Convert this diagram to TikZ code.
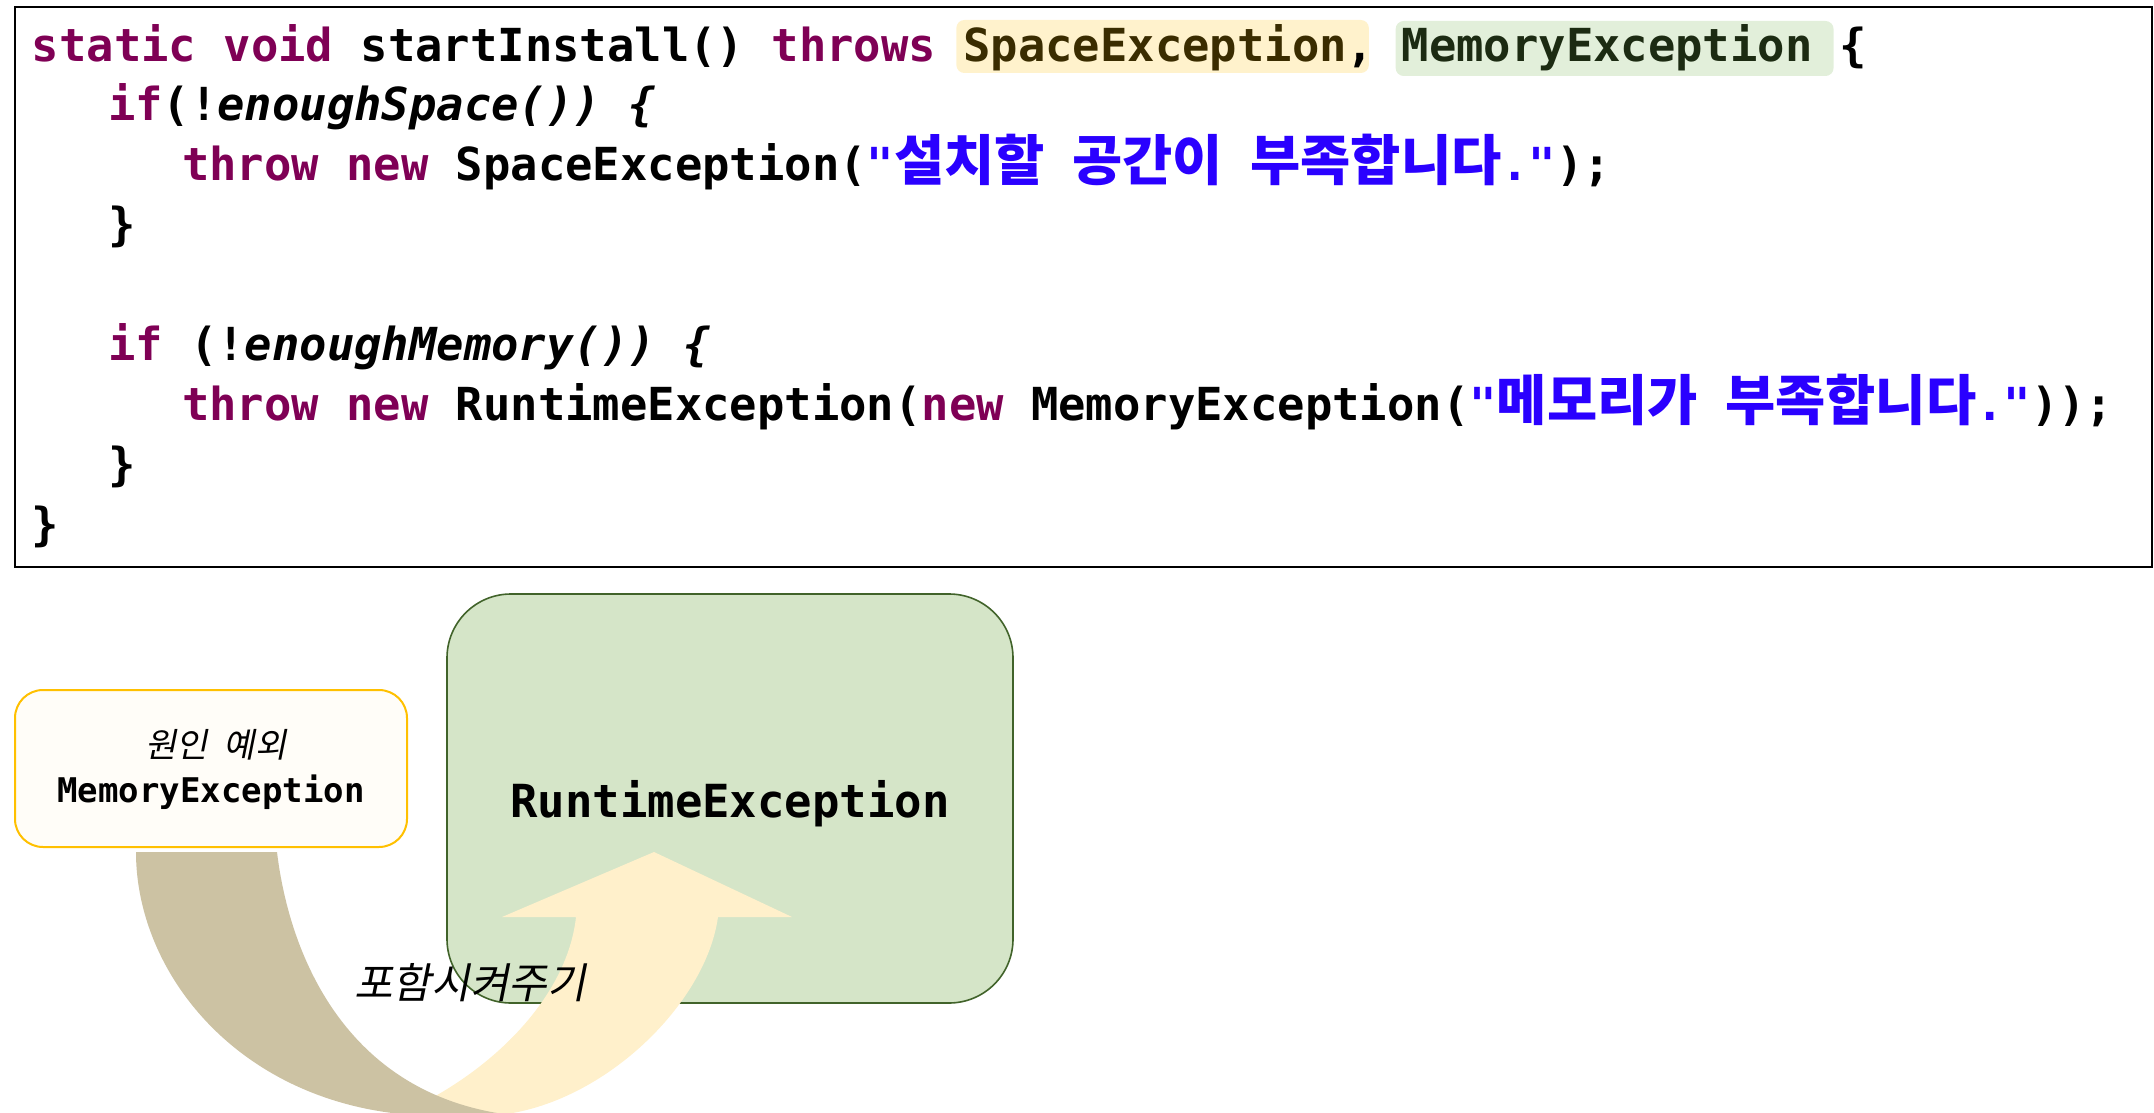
\documentclass[tikz,border=0pt]{standalone}
\usepackage{fontspec}
\usetikzlibrary{backgrounds,calc}
\newfontfamily\codefont{DejaVu Sans Mono}
\newfontfamily\kr{Noto Sans CJK KR}[Scale=1.2]
\newfontfamily\krsl{Noto Sans CJK KR}[FakeSlant=0.2]
\newcommand\krb[1]{{\kr #1}}
\newcommand\csp{\hphantom{x}}
\definecolor{kw}{HTML}{7F0055}
\definecolor{strc}{HTML}{2A00FF}
\definecolor{hlY}{HTML}{FFF2CC}
\definecolor{hlYtext}{HTML}{3A2C00}
\definecolor{hlG}{HTML}{E2EFDA}
\definecolor{hlGtext}{HTML}{1C2B12}
\definecolor{gfill}{HTML}{D5E5C8}
\definecolor{gborder}{HTML}{41632A}
\definecolor{yborder}{HTML}{FFC000}
\definecolor{yfill}{HTML}{FFFDF8}
\definecolor{tanc}{HTML}{CCC2A3}
\definecolor{arrowy}{HTML}{FFF0CB}
\tikzset{
  code/.style={inner sep=0pt, outer sep=0pt, anchor=base west,
    font=\codefont\bfseries\fontsize{22.75}{27}\selectfont},
  ybox/.style={draw=yborder, fill=yfill, line width=1pt, rounded corners=14pt,
    minimum width=196pt, minimum height=78.5pt, inner sep=0pt},
  gbox/.style={draw=gborder, fill=gfill, line width=0.8pt, rounded corners=32pt,
    minimum width=283pt, minimum height=204.5pt, inner sep=0pt},
}
\begin{document}
\begin{tikzpicture}[x=0.5pt,y=-0.5pt]
\useasboundingbox (0,0) rectangle (2154,1113);
% code frame
\draw[line width=1.1pt] (15,7) rectangle (2152,567);
% line 1
\node[code] (l1a) at (32,62) {\textcolor{kw}{static void} startInstall() \textcolor{kw}{throws}\csp};
\node[code, text=hlYtext] (l1b) at (l1a.base east) {SpaceException};
\node[code] (l1c) at (l1b.base east) {,\csp};
\node[code, text=hlGtext] (l1d) at (l1c.base east) {MemoryException};
\node[code] (l1e) at (l1d.base east) {\csp\{};
\begin{scope}[on background layer]
  \fill[hlY, rounded corners=4pt] ($(l1b.base west)+(-7,-42)$) rectangle ($(l1b.base east)+(22,11)$);
  \fill[hlG, rounded corners=4pt] ($(l1d.base west)+(-6,-41)$) rectangle ($(l1d.base east)+(21,14)$);
\end{scope}
% line 2
\node[code] (l2) at (108,121) {\textcolor{kw}{if}(!\textit{enoughSpace()) \{}};
% line 3
\node[code] (l3) at (182,181) {\textcolor{kw}{throw new} SpaceException(\textcolor{strc}{"\krb{설치할} \krb{공간이} \krb{부족합니다}."});};
% line 4
\node[code] (l4) at (108,241) {\}};
% line 6
\node[code] (l6) at (108,360) {\textcolor{kw}{if} (!\textit{enoughMemory()) \{}};
% line 7
\node[code] (l7) at (182,420) {\textcolor{kw}{throw new} RuntimeException(\textcolor{kw}{new} MemoryException(\textcolor{strc}{"\krb{메모리가} \krb{부족합니다}."}));};
% line 8
\node[code] (l8) at (108,480) {\}};
% line 9
\node[code] (l9) at (32,540) {\}};

% lower diagram
\node[ybox] (cause) at (211,768.5) {};
\node[inner sep=0pt, font=\krsl\fontsize{17}{19}\selectfont] (causeK) at (216,745) {원인\hspace{8pt}예외};
\node[code, anchor=base, font=\codefont\bfseries\fontsize{17}{20}\selectfont] (causeM) at (211,802) {MemoryException};

\node[gbox] (rt) at (730,798.5) {};
\node[code, anchor=base, font=\codefont\bfseries\fontsize{22.8}{26}\selectfont] (rtlabel) at (730,817) {RuntimeException};

% curved arrow
\fill[arrowy] (576,917) .. controls (568,990) and (505,1058) .. (430,1099)
  -- (470,1116) -- (480,1116) .. controls (590,1116) and (705,1010) .. (718,917)
  -- (792,917) -- (654,852) -- (502,917) -- cycle;
\fill[tanc] (136,852) .. controls (136,980) and (250,1116) .. (440,1116)
  -- (520,1116) .. controls (350,1100) and (290,960) .. (277,852) -- cycle;

\node[inner sep=0pt, font=\krsl\fontsize{21}{24}\selectfont] (wrap) at (470,983) {포함시켜주기};
\end{tikzpicture}
\end{document}
